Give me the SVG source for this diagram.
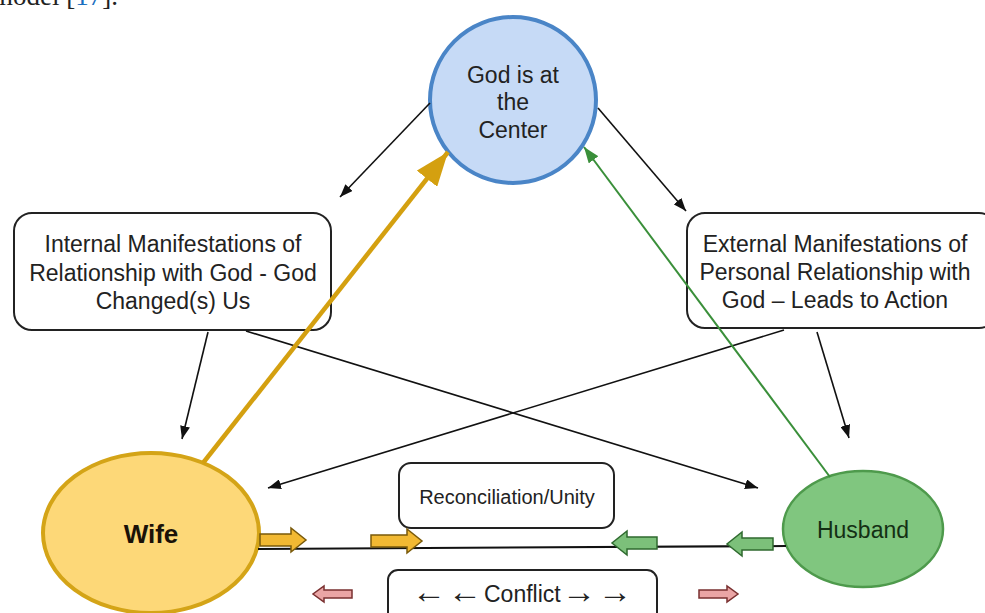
<svg xmlns="http://www.w3.org/2000/svg" width="985" height="613" viewBox="0 0 985 613">
<style>
  text { font-family: "Liberation Sans", Arial, sans-serif; fill: #222; }
  .lbl { font-size: 23px; text-anchor: middle; }
  .arr { font-size: 34px; }
  .box { fill: #fff; stroke: #222; stroke-width: 2; }
  .conn { stroke: #111; stroke-width: 1.6; fill: none; }
  .yblk { fill: #f2b933; stroke: #7a5a0a; stroke-width: 1.5; }
  .gblk { fill: #7cc07a; stroke: #2f6a2f; stroke-width: 1.5; }
  .pblk { fill: #eaa5a5; stroke: #7a3030; stroke-width: 1.5; }
</style>
<defs>
  <marker id="ah" viewBox="0 0 13 10" refX="13" refY="5" markerWidth="13" markerHeight="10" markerUnits="userSpaceOnUse" orient="auto">
    <path d="M0,0 L13,5 L0,10 z" fill="#111"/>
  </marker>
  <marker id="ahGold" viewBox="0 0 34 26" refX="34" refY="13" markerWidth="34" markerHeight="26" markerUnits="userSpaceOnUse" orient="auto">
    <path d="M0,0 L34,13 L0,26 z" fill="#d4a010"/>
  </marker>
  <marker id="ahGreen" viewBox="0 0 16 12" refX="16" refY="6" markerWidth="16" markerHeight="12" markerUnits="userSpaceOnUse" orient="auto">
    <path d="M0,0 L16,6 L0,12 z" fill="#3a8f3a"/>
  </marker>
</defs>
<rect width="985" height="613" fill="#fff"/>
<text x="-8" y="5" style="font-family:'Liberation Serif',serif;font-size:27px;fill:#222">model [<tspan fill="#1a6fc0">17</tspan>].</text>

<g id="god">
  <circle cx="513" cy="100" r="83" fill="#c6daf6" stroke="#4a85c7" stroke-width="4"/>
  <text class="lbl" x="513" y="83">God is at</text>
  <text class="lbl" x="513" y="110">the</text>
  <text class="lbl" x="513" y="138">Center</text>
</g>

<g id="internal">
  <rect class="box" x="14" y="213" width="317" height="117" rx="18"/>
  <text class="lbl" x="173" y="252">Internal Manifestations of</text>
  <text class="lbl" x="173" y="281">Relationship with God - God</text>
  <text class="lbl" x="173" y="309">Changed(s) Us</text>
</g>

<g id="external">
  <rect class="box" x="687" y="213" width="310" height="115" rx="18"/>
  <text class="lbl" x="835" y="252">External Manifestations of</text>
  <text class="lbl" x="835" y="280">Personal Relationship with</text>
  <text class="lbl" x="835" y="308">God – Leads to Action</text>
</g>

<g id="wife">
  <ellipse cx="151" cy="533" rx="108" ry="80" fill="#fdd878" stroke="#d4a417" stroke-width="4"/>
  <text x="151" y="543" style="font-size:26px;font-weight:bold;text-anchor:middle;fill:#1a1208">Wife</text>
</g>

<g id="husband">
  <ellipse cx="863" cy="529" rx="80" ry="58" fill="#80c67f" stroke="#4e9a4c" stroke-width="2.5"/>
  <text class="lbl" x="863" y="538" style="fill:#143014">Husband</text>
</g>

<g id="reconciliation">
  <rect class="box" x="399" y="463" width="215" height="65" rx="12"/>
  <text class="lbl" x="507" y="504" style="font-size:20px">Reconciliation/Unity</text>
</g>

<g id="conflict">
  <rect class="box" x="388" y="570" width="269" height="60" rx="10"/>
  <text style="font-size:23px"><tspan class="arr" x="412" y="603">←</tspan><tspan class="arr" x="448" y="603">←</tspan><tspan x="484" y="602">Conflict</tspan><tspan class="arr" x="562" y="603">→</tspan><tspan class="arr" x="598" y="603">→</tspan></text>
</g>

<g id="connectors">
  <line class="conn" x1="430" y1="103" x2="340" y2="197" marker-end="url(#ah)"/>
  <line class="conn" x1="598" y1="108" x2="686" y2="211" marker-end="url(#ah)"/>
  <line class="conn" x1="208" y1="332" x2="182" y2="439" marker-end="url(#ah)"/>
  <line class="conn" x1="817" y1="332" x2="849" y2="438" marker-end="url(#ah)"/>
  <line class="conn" x1="246" y1="331" x2="758" y2="488" marker-end="url(#ah)"/>
  <line class="conn" x1="784" y1="330" x2="268" y2="488" marker-end="url(#ah)"/>
  <line x1="203" y1="463" x2="448" y2="152" stroke="#d4a010" stroke-width="4.5" marker-end="url(#ahGold)"/>
  <line x1="830" y1="477" x2="584" y2="147" stroke="#3a8f3a" stroke-width="2" marker-end="url(#ahGreen)"/>
  <line x1="258" y1="549" x2="786" y2="546" stroke="#111" stroke-width="2"/>
</g>

<g id="flow-arrows">
  <polygon class="yblk" points="260,534 291,534 291,528 306,540 291,552 291,546 260,546"/>
  <polygon class="yblk" points="371,535 407,535 407,529 422,541 407,553 407,547 371,547"/>
  <polygon class="gblk" points="657,537 627,537 627,531 612,543 627,555 627,549 657,549"/>
  <polygon class="gblk" points="773,538 742,538 742,532 727,544 742,556 742,550 773,550"/>
  <polygon class="pblk" points="352,590 324,590 324,586 313,594 324,602 324,598 352,598"/>
  <polygon class="pblk" points="699,590 727,590 727,586 738,594 727,602 727,598 699,598"/>
</g>
</svg>
